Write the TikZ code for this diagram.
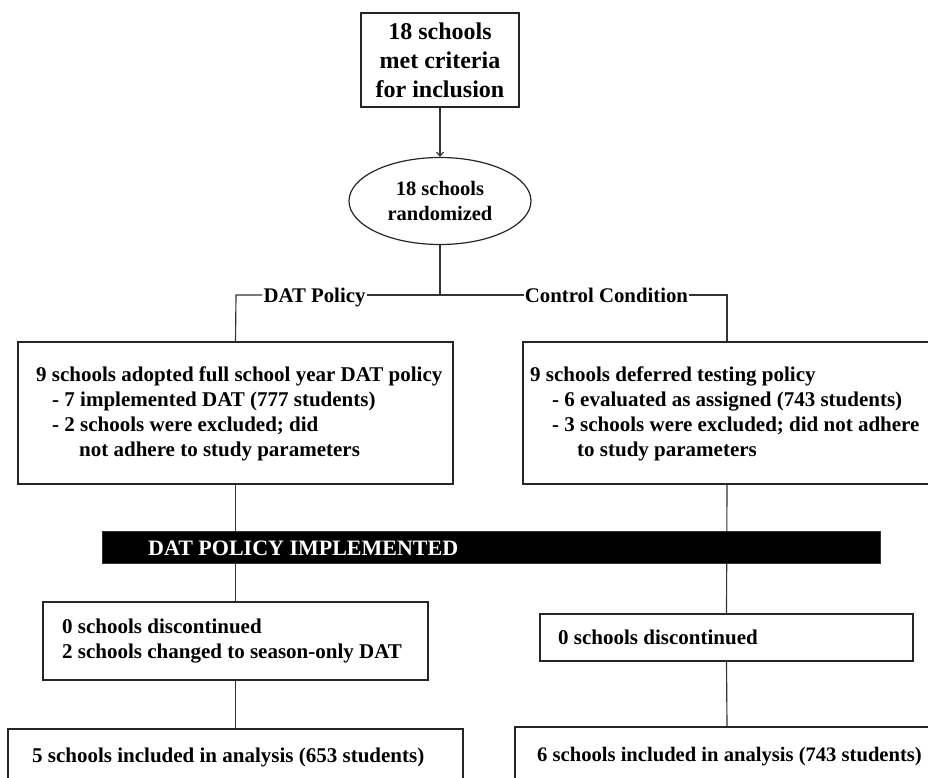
\documentclass[tikz,border=0pt]{standalone}
\usepackage{fontspec}
\setmainfont{Liberation Serif}
\usetikzlibrary{arrows.meta,shapes.geometric}
\begin{document}
\begin{tikzpicture}[x=1pt,y=-1pt,
  box/.style={draw=black!85,line width=1.2pt,rectangle,inner sep=0pt},
  conn/.style={draw=black!80,line width=1.15pt},
  txt/.style={font=\bfseries\fontsize{21}{25}\selectfont,align=left,inner sep=0pt,anchor=west},
  lbl/.style={font=\bfseries\fontsize{20.8}{25}\selectfont,inner sep=1pt,anchor=base},
]
\useasboundingbox (0,0) rectangle (928,777);
% top
\node[box,minimum width=158pt,minimum height=94pt,font=\bfseries\fontsize{24}{29}\selectfont,align=center] (top) at (440,60) {18 schools\\met criteria\\for inclusion};
\node[draw=black!85,line width=1.2pt,ellipse,minimum width=182pt,minimum height=87pt,inner sep=0pt,font=\bfseries\fontsize{20.5}{25}\selectfont,align=center] (rand) at (440,201) {18 schools\\randomized};
\draw[conn,-{Straight Barb[length=4pt,width=7pt]}] (top) -- (rand);
% branch labels
\coordinate (j) at (440,295);
\node[lbl] (dat) at (314.5,302) {DAT Policy};
\node[lbl] (ctl) at (606.5,302) {Control Condition};
% boxes
\node[box,minimum width=435pt,minimum height=142pt] (ul) at (235.5,413) {};
\node[box,minimum width=408pt,minimum height=142pt] (ur) at (727,413) {};
\node[box,minimum width=385pt,minimum height=78pt] (dl) at (235.5,641) {};
\node[box,minimum width=373pt,minimum height=47pt] (dr) at (726.5,637.5) {};
\node[box,minimum width=455pt,minimum height=60pt] (bl) at (235.5,759) {};
\node[box,minimum width=424pt,minimum height=63pt] (br) at (727,758.5) {};
% connectors
\coordinate (lc) at (236,295);
\coordinate (rc) at (727,295);
\draw[conn] (rand.south) -- (j);
\draw[conn] (ul.north) -- (lc) -- (dat.west |- lc);
\draw[conn] (dat.east |- lc) -- (j) -- (ctl.west |- j);
\draw[conn] (ctl.east |- rc) -- (rc) -- (ur.north);
\draw[conn] (ul.south) -- (dl.north);
\draw[conn] (dl.south) -- (bl.north);
\draw[conn] (ur.south) -- (dr.north);
\draw[conn] (dr.south) -- (br.north);
% bar
\node[fill=black,draw=black!80,minimum width=778pt,minimum height=32pt,inner sep=0pt] (bar) at (491,547) {};
\node[font=\bfseries\fontsize{22}{26}\selectfont,text=white,anchor=west,inner sep=0pt] (bart) at (148,548) {DAT POLICY IMPLEMENTED};
% texts
\node[txt] (tul) at (36,414) {9 schools adopted full school year DAT policy\\\hspace*{16pt}- 7 implemented DAT (777 students)\\\hspace*{16pt}- 2 schools were excluded; did\\\hspace*{43pt}not adhere to study parameters};
\node[txt] (tur) at (530,414) {9 schools deferred testing policy\\\hspace*{22pt}- 6 evaluated as assigned (743 students)\\\hspace*{22pt}- 3 schools were excluded; did not adhere\\\hspace*{47pt}to study parameters};
\node[txt] (tdl) at (62,641) {0 schools discontinued\\2 schools changed to season-only DAT};
\node[txt] (tdr) at (558,637.5) {0 schools discontinued};
\node[txt] (tbl) at (32,757) {5 schools included in analysis (653 students)};
\node[txt,font=\bfseries\fontsize{20.6}{25}\selectfont] (tbr) at (537,757) {6 schools included in analysis (743 students)};
\end{tikzpicture}
\end{document}
